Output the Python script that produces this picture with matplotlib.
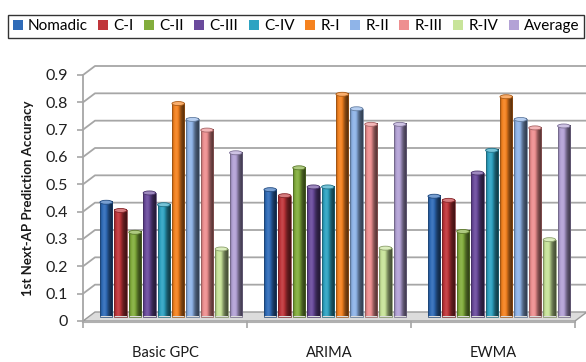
import numpy as np
import matplotlib
matplotlib.use("Agg")
import matplotlib.pyplot as plt
from matplotlib.colors import to_rgb
from matplotlib.patches import Ellipse, Patch, Polygon

plt.rcParams["font.family"] = ["Lato", "DejaVu Sans"]

categories = ["Basic GPC", "ARIMA", "EWMA"]
series = ["Nomadic", "C-I", "C-II", "C-III", "C-IV", "R-I", "R-II", "R-III", "R-IV", "Average"]
colors = ["#2f6bb8", "#c0353a", "#82ad3c", "#6a4a9c", "#2ea3c2",
          "#f5821f", "#8fb4e8", "#ee8f90", "#c8e49a", "#b3a2d6"]
values = {
    "Basic GPC": [0.418, 0.388, 0.308, 0.452, 0.409, 0.779, 0.721, 0.682, 0.247, 0.599],
    "ARIMA":     [0.464, 0.442, 0.544, 0.474, 0.474, 0.813, 0.760, 0.703, 0.250, 0.703],
    "EWMA":      [0.440, 0.425, 0.311, 0.525, 0.608, 0.804, 0.721, 0.690, 0.281, 0.697],
}
yticks = [0, 0.1, 0.2, 0.3, 0.4, 0.5, 0.6, 0.7, 0.8, 0.9]

W, H = 586, 362
fig = plt.figure(figsize=(W / 100, H / 100), dpi=100, facecolor="white")
# plot area in pixels: front axis x=83..575, y=321 (0) .. 75 (0.9)
ax = fig.add_axes([83 / W, (H - 321) / H, 492 / W, 246 / H])
ax.set_xlim(0, 3)
ax.set_ylim(0, 0.9)
ax.patch.set_visible(False)

# depth of the 3D box, converted to data units
dx = 12 / 492 * 3
dy = 9 / 246 * 0.9
grid_col = "#a6a6a6"

# back wall gridlines with their diagonal side-wall part
for v in yticks[1:]:
    ax.plot([0, dx, 3 + dx + 0.2], [v, v + dy, v + dy], color=grid_col,
            lw=1.3, clip_on=False, zorder=1)

# floor slab
floor = Polygon([[0, 0], [3, 0], [3 + dx, dy], [dx, dy]], closed=True,
                facecolor="#dcdcdc", edgecolor="#9a9a9a", lw=1.0,
                clip_on=False, zorder=1)
ax.add_patch(floor)
ax.plot([0, 3], [-0.004, -0.004], color="#b0b0b0", lw=1.5, clip_on=False, zorder=1)

# cylinders
step = 14.4 / 164
bw = 12.5 / 164
cap_h = 4 / 246 * 0.9
prof = np.linspace(0, 1, 64)
shade = 0.6 + 0.6 * np.exp(-((prof - 0.35) / 0.3) ** 2) - 0.25 * prof
for ci, cat in enumerate(categories):
    for si, (name, val) in enumerate(zip(series, values[cat])):
        xc = ci + 0.5 + dx / 2 + (si - 4.5) * step
        base = np.array(to_rgb(colors[si]))
        grad = np.empty((1, prof.size, 3))
        for k, s in enumerate(shade):
            if s <= 1:
                grad[0, k] = base * s
            else:
                grad[0, k] = base + (1 - base) * (s - 1) * 0.8
        grad = np.clip(grad, 0, 1)
        ax.imshow(grad, extent=(xc - bw / 2, xc + bw / 2, dy / 2, dy / 2 + val),
                  aspect="auto", interpolation="bilinear", zorder=2, clip_on=False)
        ax.bar(xc, val, width=bw, bottom=dy / 2, facecolor="none",
               edgecolor=tuple(base * 0.6), lw=0.5, zorder=3)
        cap_col = base + (1 - base) * 0.35
        ax.add_patch(Ellipse((xc, dy / 2 + val), bw, cap_h, facecolor=cap_col,
                             edgecolor=tuple(base * 0.7), lw=0.6, zorder=4,
                             clip_on=False))
ax.set_xlim(0, 3)
ax.set_ylim(0, 0.9)

# axes styling
for side in ["top", "right", "bottom"]:
    ax.spines[side].set_visible(False)
ax.spines["left"].set_color(grid_col)
ax.spines["left"].set_linewidth(1.3)
ax.set_yticks(yticks, [f"{t:g}" for t in yticks])
ax.tick_params(axis="y", length=4, width=1.2, color=grid_col, pad=7,
               labelsize=11.5, labelcolor="#202020")
ax.set_xticks([0.5, 1.5, 2.5], categories)
ax.set_xticks([0, 1, 2, 3], minor=True)
ax.tick_params(axis="x", which="major", length=0, pad=18, labelsize=10.5,
               labelcolor="#1a1a1a")
ax.tick_params(axis="x", which="minor", length=5, width=1.2, color=grid_col)
ax.set_ylabel("1st Next-AP Prediction Accuracy", fontsize=9.5, fontweight="bold",
              color="#1a1a1a", labelpad=8)

handles = [Patch(facecolor=c, edgecolor="none") for c in colors]
leg = fig.legend(handles, series, ncol=10, loc="lower left",
                 bbox_to_anchor=(8 / W, 1 - 38 / H, 576 / W, 26 / H),
                 mode="expand", frameon=True, fancybox=False, fontsize=11,
                 handlelength=0.65, handleheight=0.65, handletextpad=0.35,
                 columnspacing=0.6, borderaxespad=0, borderpad=0.3)
leg.get_frame().set_edgecolor("black")
leg.get_frame().set_linewidth(1.0)

fig.savefig("out.png", dpi=100, facecolor="white")
